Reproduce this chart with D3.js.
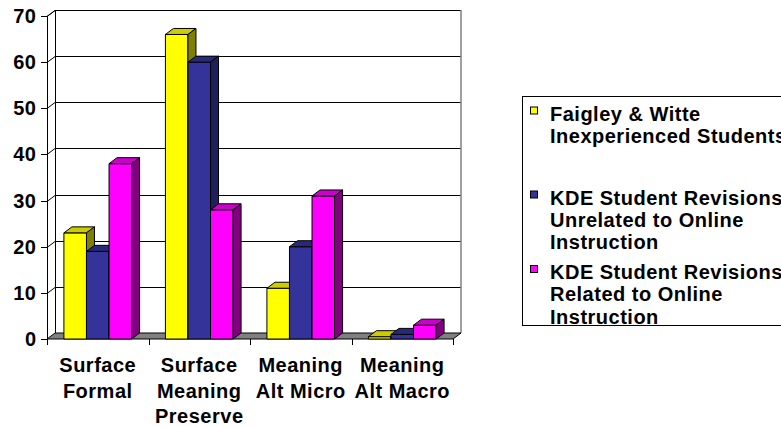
<!DOCTYPE html>
<html>
<head>
<meta charset="utf-8">
<script src="https://cdn.jsdelivr.net/npm/d3@7"></script>
<style>
  html, body { margin: 0; padding: 0; background: #fff; }
  svg { display: block; }
  text { font-family: Arial, "Liberation Sans", sans-serif; font-weight: bold; fill: #000; letter-spacing: 0.5px; }
</style>
</head>
<body>
<svg id="chart" width="781" height="427"></svg>
<script>
// Revision categories along the x axis
const categories = ["Surface Formal", "Surface Meaning Preserve", "Meaning Alt Micro", "Meaning Alt Macro"];
const categoryLines = [["Surface", "Formal"], ["Surface", "Meaning", "Preserve"], ["Meaning", "Alt Micro"], ["Meaning", "Alt Macro"]];

// Series
const seriesNames = ["Faigley & Witte Inexperienced Students",
                     "KDE Student Revisions Unrelated to Online Instruction",
                     "KDE Student Revisions Related to Online Instruction"];
const seriesLegendLines = [["Faigley & Witte", "Inexperienced Students"],
                           ["KDE Student Revisions", "Unrelated to Online", "Instruction"],
                           ["KDE Student Revisions", "Related to Online", "Instruction"]];
const faigleyWitte = [23, 66, 11, 0.5];
const kdeUnrelated = [19, 60, 20, 1];
const kdeRelated   = [38, 28, 31, 3];

// Value axis ticks
const yTicks = [0, 10, 20, 30, 40, 50, 60, 70];

const seriesValues = [faigleyWitte, kdeUnrelated, kdeRelated];
const palette = [
  { front: "#FFFF00", top: "#CCCC00", side: "#808000" },
  { front: "#333399", top: "#29297A", side: "#1F1F5C" },
  { front: "#FF00FF", top: "#CC00CC", side: "#800080" }
];

const svg = d3.select("#chart");
svg.append("rect").attr("width", 781).attr("height", 427).attr("fill", "#fff");

// 3D depth offset of the plot box
const DX = 8, DY = -6;
const plotLeft = 47, plotRight = 453, plotBottom = 339, plotTop = 16;

const y = d3.scaleLinear().domain([0, 70]).range([plotBottom, plotTop]);
const x0 = d3.scaleBand().domain(categories).range([plotLeft, plotRight]).paddingInner(0).paddingOuter(0);
const x1 = d3.scaleBand().domain(d3.range(seriesNames.length))
  .range([0, x0.bandwidth()]).paddingInner(0).paddingOuter(0.75);

const g = svg.append("g");

// Walls: gridlines run across the side wall then along the back wall
yTicks.forEach(t => {
  const yy = Math.round(y(t)) + 0.5;
  if (t > 0) {
    g.append("polyline")
      .attr("points", `${plotLeft},${yy} ${plotLeft + DX},${yy + DY} ${plotRight + DX},${yy + DY}`)
      .attr("fill", "none").attr("stroke", "#000").attr("stroke-width", 1);
  }
  g.append("line").attr("x1", plotLeft - 6).attr("x2", plotLeft).attr("y1", yy).attr("y2", yy)
    .attr("stroke", "#000");
});

// Back wall outline
g.append("line").attr("x1", plotLeft + DX + 0.5).attr("x2", plotLeft + DX + 0.5)
  .attr("y1", plotTop + DY).attr("y2", plotBottom + DY).attr("stroke", "#000");
g.append("line").attr("x1", plotRight + DX).attr("x2", plotRight + DX)
  .attr("y1", plotTop + DY).attr("y2", plotBottom + DY).attr("stroke", "#808080").attr("stroke-width", 1.5);
g.append("line").attr("x1", plotLeft).attr("x2", plotLeft + DX)
  .attr("y1", plotTop + 0.5).attr("y2", plotTop + DY + 0.5).attr("stroke", "#000");

// Floor
g.append("polygon")
  .attr("points", `${plotLeft},${plotBottom} ${plotRight},${plotBottom} ${plotRight + DX},${plotBottom + DY} ${plotLeft + DX},${plotBottom + DY}`)
  .attr("fill", "#808080").attr("stroke", "#000").attr("stroke-width", 1);

// Value axis line
g.append("line").attr("x1", plotLeft + 0.5).attr("x2", plotLeft + 0.5)
  .attr("y1", plotTop).attr("y2", plotBottom).attr("stroke", "#000");

// Category axis ticks
const boundaries = categories.map(c => x0(c)).concat([plotRight]);
g.selectAll(".xtick").data(boundaries).join("line")
  .attr("x1", d => Math.round(d) + 0.5).attr("x2", d => Math.round(d) + 0.5)
  .attr("y1", plotBottom).attr("y2", plotBottom + 6).attr("stroke", "#000");

// Bars, drawn left to right so each front face covers its neighbour's side face
const bars = [];
categories.forEach((c, ci) => {
  seriesValues.forEach((vals, si) => {
    bars.push({ c, si, v: vals[ci] });
  });
});
const barG = g.append("g");
bars.forEach(b => {
  const bx = x0(b.c) + x1(b.si);
  const bw = x1.bandwidth();
  const by = y(b.v);
  const col = palette[b.si];
  const gg = barG.append("g").attr("stroke", "#000").attr("stroke-width", 1).attr("stroke-linejoin", "round");
  gg.append("rect").attr("x", bx).attr("y", by).attr("width", bw).attr("height", plotBottom - by)
    .attr("fill", col.front);
  gg.append("polygon")
    .attr("points", `${bx},${by} ${bx + DX},${by + DY} ${bx + bw + DX},${by + DY} ${bx + bw},${by}`)
    .attr("fill", col.top);
  gg.append("polygon")
    .attr("points", `${bx + bw},${by} ${bx + bw + DX},${by + DY} ${bx + bw + DX},${plotBottom + DY} ${bx + bw},${plotBottom}`)
    .attr("fill", col.side);
});

// Value axis labels
g.selectAll(".ylab").data(yTicks).join("text")
  .attr("x", 36.5).attr("y", d => y(d) + 7)
  .attr("text-anchor", "end").attr("font-size", 20)
  .text(d => d);

// Category labels
categories.forEach((c, ci) => {
  const cx = x0(c) + x0.bandwidth() / 2;
  const t = g.append("text").attr("text-anchor", "middle").attr("font-size", 20);
  categoryLines[ci].forEach((ln, li) => {
    t.append("tspan").attr("x", cx).attr("y", 372 + li * 25.5).text(ln);
  });
});

// Legend
const lg = svg.append("g");
lg.append("rect").attr("x", 522.5).attr("y", 96.5).attr("width", 300).attr("height", 229)
  .attr("fill", "#fff").attr("stroke", "#000").attr("stroke-width", 1);
const entryBaselines = [120.5, 204.5, 279];
seriesNames.forEach((s, si) => {
  const b0 = entryBaselines[si];
  lg.append("rect").attr("x", 530.5).attr("y", b0 - 13.5).attr("width", 7).attr("height", 7)
    .attr("fill", palette[si].front).attr("stroke", "#000").attr("stroke-width", 1);
  const t = lg.append("text").attr("font-size", 20);
  seriesLegendLines[si].forEach((ln, li) => {
    t.append("tspan").attr("x", 550).attr("y", b0 + li * 22.3).text(ln);
  });
});
</script>
</body>
</html>
